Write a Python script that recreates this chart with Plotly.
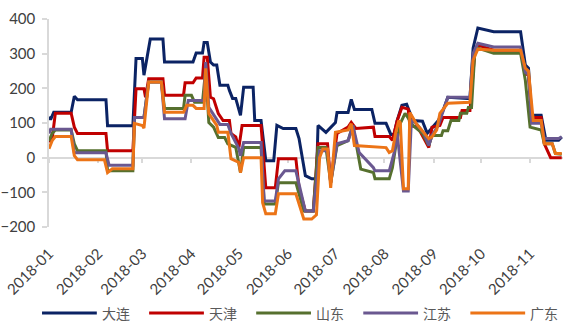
import pandas as pd
import plotly.graph_objects as go

BASE = pd.Timestamp("2018-01-01")

# Day offsets from 2018-01-01 and price spread values for each port
dalian_days = [0, 1, 3, 14, 16, 18, 36, 37, 53, 55, 59, 60, 62, 64, 72, 73, 91, 93, 97, 98,
               100, 102, 104, 106, 108, 113, 114, 116, 118, 121, 123, 129, 130, 134, 137, 142, 144, 148, 156, 158,
               162, 166, 169, 170, 175, 181, 182, 189, 191, 193, 204, 206, 213, 216, 218, 220, 223, 226, 230, 236,
               239, 242, 246, 249, 252, 266, 268, 271, 281, 298, 301, 303, 305, 311, 314, 322, 324]
dalian_vals = [118, 110, 131, 131, 177, 167, 167, 92, 92, 286, 286, 238, 290, 342, 342, 276, 276, 302, 302, 332,
               332, 276, 267, 267, 209, 209, 194, 171, 171, 122, 203, 203, 107, 107, -9, -9, 93, 84, 84, 55,
               -52, -61, -61, 93, 73, 101, 130, 130, 168, 139, 139, 99, 99, 67, 67, 107, 151, 154, 107, 105,
               70, 87, 107, 136, 174, 170, 316, 374, 363, 363, 267, 258, 122, 122, 50, 50, 60]

tianjin_days = [0, 2, 4, 14, 16, 18, 36, 37, 53, 55, 60, 61, 63, 72, 73, 85, 86, 91, 93, 97,
                98, 100, 102, 104, 107, 110, 114, 115, 118, 120, 122, 134, 137, 143, 145, 156, 158, 162, 167, 170,
                176, 178, 182, 189, 191, 194, 205, 206, 215, 217, 220, 223, 227, 228, 233, 236, 240, 242, 247, 249,
                260, 261, 266, 269, 271, 281, 298, 301, 303, 305, 311, 313, 317, 324]
tianjin_vals = [45, 55, 128, 128, 88, 70, 70, 20, 20, 199, 199, 174, 228, 228, 180, 180, 216, 216, 230, 230,
                290, 290, 174, 170, 127, 107, 107, 70, 60, 29, 93, 93, -87, -87, -3, -3, -87, -154, -154, 40,
                40, -72, 70, 88, 102, 84, 88, 61, 61, 50, 107, 145, 140, 93, 88, 61, 29, 88, 93, 116,
                116, 136, 136, 301, 325, 310, 310, 243, 238, 116, 116, 40, 0, 0]

shandong_days = [0, 2, 4, 14, 16, 18, 36, 37, 53, 54, 60, 63, 71, 73, 85, 86, 90, 92, 97, 99,
                 101, 104, 107, 111, 113, 118, 121, 123, 134, 136, 143, 145, 156, 161, 167, 170, 175, 178, 182, 189,
                 192, 195, 197, 205, 206, 215, 217, 219, 222, 225, 230, 236, 240, 242, 248, 249, 252, 254, 259, 260,
                 264, 265, 267, 269, 271, 281, 298, 301, 304, 311, 313, 318, 320, 324]
shandong_vals = [48, 70, 80, 80, 40, 20, 20, -38, -38, 116, 116, 218, 218, 142, 142, 180, 180, 160, 160, 255,
                 101, 88, 58, 58, 40, 30, -43, 29, 29, -134, -134, -72, -72, -154, -154, 29, 29, -72, 35, 49,
                 93, 20, -33, -43, -61, -61, -29, 30, 99, 128, 93, 70, 35, 64, 64, 78, 78, 107, 107, 128,
                 128, 145, 145, 300, 316, 301, 301, 223, 88, 80, 40, 40, 12, 10]

jiangsu_days = [0, 1, 14, 16, 36, 38, 53, 54, 60, 63, 71, 73, 86, 88, 98, 99, 101, 106, 108, 113,
                115, 120, 121, 123, 134, 136, 143, 145, 149, 156, 162, 167, 171, 176, 178, 182, 189, 192, 196, 205,
                206, 215, 216, 218, 220, 224, 227, 229, 232, 237, 240, 242, 246, 249, 252, 266, 268, 271, 281, 298,
                301, 303, 305, 311, 313, 322, 324]
jiangsu_vals = [70, 82, 82, 14, 14, -22, -22, 116, 116, 218, 218, 112, 112, 165, 165, 276, 145, 107, 96, 96,
                70, 26, 5, 44, 44, -125, -125, -61, -38, -38, -154, -154, 20, 20, -72, 40, 49, 93, 15, -29,
                -38, -38, -23, 12, 70, -96, -96, 110, 99, 70, 35, 64, 93, 136, 174, 174, 301, 330, 319, 319,
                246, 240, 99, 99, 55, 55, 60]

guangdong_days = [0, 2, 4, 14, 16, 18, 35, 37, 40, 53, 54, 59, 60, 63, 71, 73, 85, 87, 91, 93,
                  98, 99, 101, 106, 107, 113, 115, 120, 121, 123, 134, 135, 137, 143, 145, 156, 161, 166, 169, 171,
                  173, 176, 178, 181, 189, 191, 193, 213, 215, 217, 219, 221, 222, 224, 227, 228, 232, 236, 240, 242,
                  245, 247, 252, 266, 268, 271, 281, 298, 301, 303, 306, 311, 313, 318, 320, 324]
guangdong_vals = [26, 49, 61, 61, 6, -6, -6, -43, -32, -32, 99, 93, 85, 218, 218, 131, 131, 151, 151, 142,
                  142, 258, 127, 93, 73, 73, -3, -14, -43, 0, 0, -130, -162, -162, -104, -104, -177, -177, -165, 0,
                  25, 25, -87, 73, 80, 98, 35, 29, 15, 20, 70, 107, 100, -90, -90, 130, 99, 78, 55, 60,
                  80, 128, 157, 160, 281, 313, 310, 310, 258, 250, 107, 107, 40, 40, 12, 12]

series_names = ["大连", "天津", "山东", "江苏", "广东"]
series_days = [dalian_days, tianjin_days, shandong_days, jiangsu_days, guangdong_days]
series_vals = [dalian_vals, tianjin_vals, shandong_vals, jiangsu_vals, guangdong_vals]
series_colors = ["#0B2364", "#C00000", "#56702E", "#6A5890", "#EC7417"]

month_ticks = pd.date_range("2018-01-01", "2018-11-01", freq="MS")
tick_labels = [d.strftime("%Y-%m") for d in month_ticks]

Y_MIN, Y_MAX = -200, 400
X_END = BASE + pd.Timedelta(days=324.8)

W, H = 563, 323
M_L, M_R, M_T, M_B = 47, 0, 19, 96
PW, PH = W - M_L - M_R, H - M_T - M_B

fig = go.Figure()
for name, days, vals, color in zip(series_names, series_days, series_vals, series_colors):
    fig.add_trace(go.Scatter(
        x=BASE + pd.to_timedelta(days, unit="D"), y=vals, mode="lines", name=name,
        line=dict(color=color, width=3), showlegend=False,
    ))

# helper trace so the zero-crossing date axis gets drawn
fig.add_trace(go.Scatter(x=month_ticks[:1], y=[None], xaxis="x2", mode="lines",
                         showlegend=False, hoverinfo="skip"))

AXIS_GREY = "#D9D9D9"
TEXT_GREY = "#404040"
NUM_FONT = dict(family="Lato, Open Sans, sans-serif", size=15, color=TEXT_GREY)

fig.update_layout(
    width=W, height=H,
    margin=dict(l=M_L, r=M_R, t=M_T, b=M_B),
    paper_bgcolor="white", plot_bgcolor="white",
    xaxis=dict(
        type="date", range=[BASE, X_END],
        tickvals=month_ticks, ticktext=tick_labels, tickangle=-45,
        tickfont=NUM_FONT, ticks="", showline=False, showgrid=False, zeroline=False,
        ticklabelstandoff=14,
    ),
    xaxis2=dict(
        type="date", overlaying="x", matches="x", anchor="free",
        position=(0 - Y_MIN) / (Y_MAX - Y_MIN),
        showline=True, linecolor=AXIS_GREY, linewidth=1.5,
        ticks="outside", ticklen=5, tickwidth=1.5, tickcolor=AXIS_GREY,
        tickvals=month_ticks, showticklabels=False, showgrid=False, zeroline=False,
        layer="below traces",
    ),
    yaxis=dict(
        range=[Y_MIN, Y_MAX], dtick=100, tick0=0,
        tickfont=NUM_FONT, showline=True, linecolor=AXIS_GREY, linewidth=1.5,
        ticks="outside", ticklen=5, tickwidth=1.5, tickcolor=AXIS_GREY,
        showgrid=False, zeroline=False, layer="below traces", ticklabelstandoff=4,
    ),
)

# legend row drawn below the axis labels
LEG_Y_PX = 313
LEG_X0_PX = 40
LEG_STEP_PX = 107.5
LEG_LINE_PX = 55


def px_x(px):
    return (px - M_L) / PW


def px_y(py):
    return (M_T + PH - py) / PH


for i, (name, color) in enumerate(zip(series_names, series_colors)):
    x0 = LEG_X0_PX + i * LEG_STEP_PX
    fig.add_shape(type="line", xref="paper", yref="paper",
                  x0=px_x(x0), x1=px_x(x0 + LEG_LINE_PX), y0=px_y(LEG_Y_PX), y1=px_y(LEG_Y_PX),
                  line=dict(color=color, width=3))
    fig.add_annotation(xref="paper", yref="paper", x=px_x(x0 + LEG_LINE_PX + 3), y=px_y(LEG_Y_PX),
                       text=name, showarrow=False, xanchor="left", yanchor="middle",
                       font=dict(family="Noto Sans CJK SC", size=14, color="#595959"))

fig.write_html("out.html")
